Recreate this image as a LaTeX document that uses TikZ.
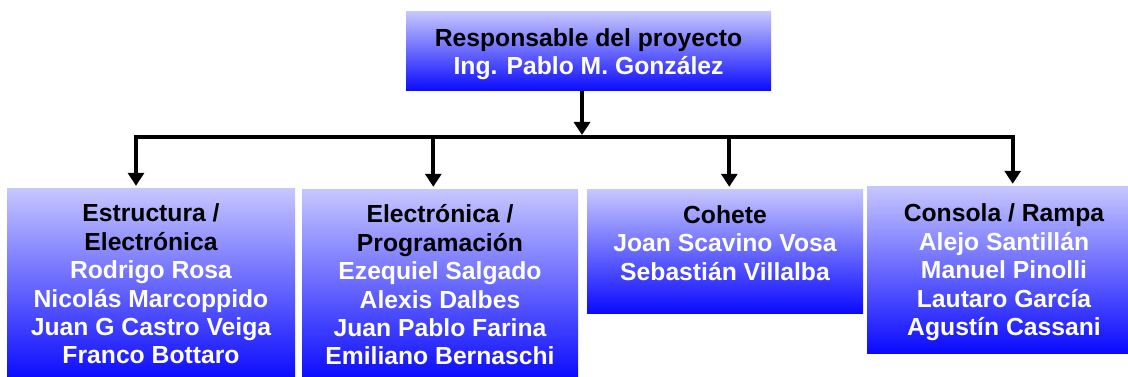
\documentclass[tikz,border=0pt]{standalone}
\usepackage{fontspec}
\setmainfont{Liberation Sans}
\usepackage{tikz}
\usepackage{xcolor}
\usetikzlibrary{arrows.meta}

\definecolor{lavanda}{RGB}{198,198,255}
\definecolor{azul}{RGB}{10,10,255}

\tikzset{
  caja/.style={inner sep=0pt, top color=lavanda, bottom color=azul},
  texto/.style={align=center, anchor=base, inner sep=0pt,
    font=\fontsize{24.7}{28.4}\selectfont\bfseries},
  flecha/.style={line width=4pt, -{Triangle[length=13pt,width=16pt]}, shorten >=3pt}
}

\begin{document}
\begin{tikzpicture}[x=1pt,y=-1pt]

\useasboundingbox (0,0) rectangle (1128,377);

% cajas
\node[caja, minimum width=365pt, minimum height=79pt] (resp) at (588.5,51.5) {};
\node[caja, minimum width=288pt, minimum height=191pt] (est) at (151,284.5) {};
\node[caja, minimum width=276pt, minimum height=190pt] (elec) at (440,285) {};
\node[caja, minimum width=276pt, minimum height=123pt] (coh) at (725,251.5) {};
\node[caja, minimum width=274pt, minimum height=166pt] (cons) at (1004,270) {};

% textos (base = ultima linea)
\node[texto] (resp-t) at ([yshift=-63pt]resp.north) {Responsable del proyecto\\\color{white}Ing. Pablo M. González};
\node[texto] (est-t) at ([yshift=-175pt]est.north) {Estructura /\\Electrónica\\\color{white}Rodrigo Rosa\\\color{white}Nicolás Marcoppido\\\color{white}Juan G Castro Veiga\\\color{white}Franco Bottaro};
\node[texto] (elec-t) at ([yshift=-175pt]elec.north) {Electrónica /\\Programación\\\color{white}Ezequiel Salgado\\\color{white}Alexis Dalbes\\\color{white}Juan Pablo Farina\\\color{white}Emiliano Bernaschi};
\node[texto] (coh-t) at ([yshift=-90.5pt]coh.north) {Cohete\\\color{white}Joan Scavino Vosa\\\color{white}Sebastián Villalba};
\node[texto] (cons-t) at ([yshift=-148.7pt]cons.north) {Consola / Rampa\\\color{white}Alejo Santillán\\\color{white}Manuel Pinolli\\\color{white}Lautaro García\\\color{white}Agustín Cassani};

% conectores
\coordinate (hub) at (582,137);
\draw[flecha, shorten >=0pt] (resp.south -| hub) -- ([yshift=2pt]hub);
\draw[flecha] (hub) -| ([xshift=-15pt]est.north);
\draw[flecha] (hub) -| ([xshift=-6.7pt]elec.north);
\draw[flecha] (hub) -| ([xshift=4.3pt]coh.north);
\draw[flecha] (hub) -| ([xshift=8.7pt]cons.north);

\end{tikzpicture}
\end{document}
